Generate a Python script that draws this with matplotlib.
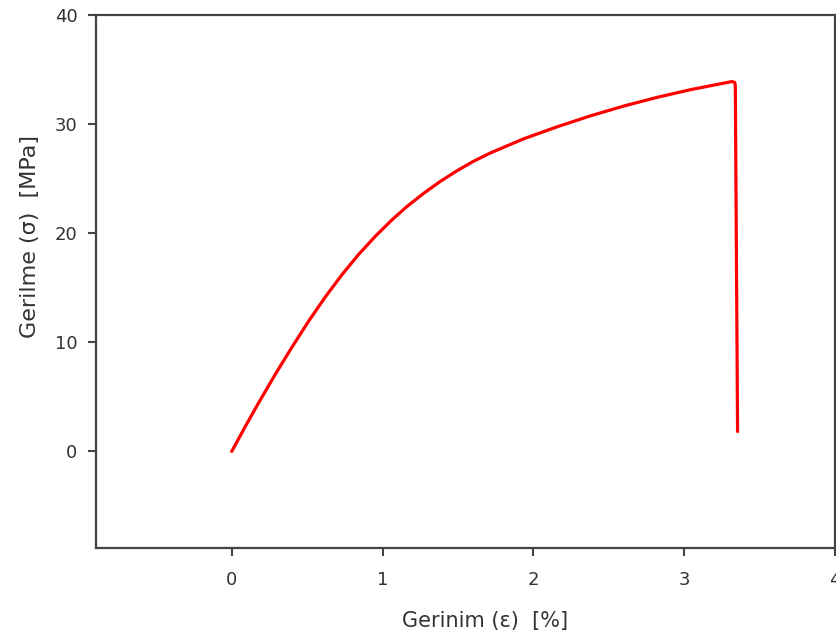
import matplotlib
matplotlib.use("Agg")
import matplotlib.pyplot as plt

plt.rcParams['font.family'] = ['DejaVu Sans']

# Stress-strain curve of the tensile test (strain in %, stress in MPa)
strain = [0.0, 0.090, 0.178, 0.288, 0.399, 0.509, 0.620, 0.731, 0.841, 0.952,
          1.062, 1.162, 1.272, 1.383, 1.493, 1.604, 1.714, 1.935, 2.157, 2.377,
          2.598, 2.820, 3.040, 3.261, 3.317, 3.336, 3.339, 3.354]
stress = [0.0, 2.29, 4.45, 7.05, 9.55, 11.92, 14.15, 16.20, 18.05, 19.72,
          21.22, 22.45, 23.65, 24.75, 25.72, 26.60, 27.35, 28.65, 29.75, 30.75,
          31.65, 32.45, 33.15, 33.75, 33.90, 33.82, 33.50, 1.83]

x_ticks = [0, 1, 2, 3, 4]
y_ticks = [0, 10, 20, 30, 40]

fig = plt.figure(figsize=(8.37, 6.43), dpi=100)
ax = fig.add_axes([96 / 837, 1 - 548 / 643, (835 - 96) / 837, (548 - 15) / 643])

ax.plot(strain, stress, color='#ff0000', lw=2.3, solid_joinstyle='round',
        solid_capstyle='round')

ax.set_xlim(-0.9, 4.0)
ax.set_ylim(-8.85, 40)
ax.set_xticks(x_ticks)
ax.set_yticks(y_ticks)

text_col = '#333333'
for s in ax.spines.values():
    s.set_color('#444444')
    s.set_linewidth(1.6)
ax.tick_params(direction='out', length=5.8, width=1.5, color='#444444',
               labelsize=13, labelcolor=text_col)
ax.tick_params(axis='x', pad=11)
ax.tick_params(axis='y', pad=7.5)

ax.set_xlabel('Gerinim (ε)  [%]', fontsize=15, color=text_col)
ax.set_ylabel('Gerilme (σ)  [MPa]', fontsize=16, color=text_col)
ax.xaxis.set_label_coords(0.526, -0.118)
ax.yaxis.set_label_coords(-0.076, 0.585)

fig.savefig('out.png', dpi=100)
